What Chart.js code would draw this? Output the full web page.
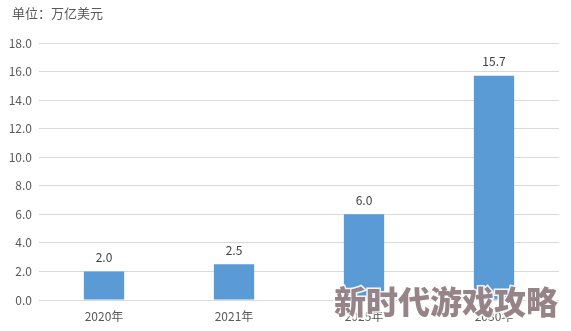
<!DOCTYPE html>
<html>
<head>
<meta charset="utf-8">
<script src="https://cdn.jsdelivr.net/npm/chart.js@4.4.1/dist/chart.umd.min.js"></script>
<style>
  html, body { margin: 0; padding: 0; background: #fff; }
  #wrap { position: relative; width: 571px; height: 331px; }
  #unit { position: absolute; left: 12px; top: 3px; font: 13px "Noto Sans CJK SC", sans-serif; color: #595959; }
</style>
</head>
<body>
<div id="wrap">
  <div id="unit">单位：万亿美元</div>
  <canvas id="c" width="571" height="331"></canvas>
</div>
<script>
// Chart data
const categories = ["2020年", "2021年", "2025年", "2030年"];
const values = [2.0, 2.5, 6.0, 15.7];
const yMax = 18;
const yStep = 2;

const FONT = "'Noto Sans CJK SC', 'Noto Sans', sans-serif";
const TEXT_COLOR = "#595959";

// Value labels above each bar
const barLabels = {
    id: "barLabels",
    afterDatasetsDraw(chart) {
        const ctx = chart.ctx;
        const meta = chart.getDatasetMeta(0);
        ctx.save();
        ctx.font = "12px " + FONT;
        ctx.fillStyle = "#404040";
        ctx.textAlign = "center";
        ctx.textBaseline = "bottom";
        meta.data.forEach((bar, i) => {
            ctx.fillText(values[i].toFixed(1), bar.x, bar.y - 8);
        });
        ctx.restore();
    },
};

// Watermark overlay
const watermark = {
    id: "watermark",
    afterDraw(chart) {
        const ctx = chart.ctx;
        ctx.save();
        ctx.font = "900 32px " + FONT;
        ctx.textAlign = "center";
        ctx.textBaseline = "middle";
        ctx.lineWidth = 3;
        ctx.strokeStyle = "rgba(255,255,255,0.9)";
        ctx.strokeText("新时代游戏攻略", 446, 302);
        ctx.fillStyle = "#978489";
        ctx.fillText("新时代游戏攻略", 446, 302);
        ctx.restore();
    },
};

new Chart(document.getElementById("c"), {
    type: "bar",
    data: {
        labels: categories,
        datasets: [{
            data: values,
            backgroundColor: "#5B9BD5",
            borderWidth: 0,
            barPercentage: 0.31,
            categoryPercentage: 1.0,
        }],
    },
    options: {
        responsive: false,
        animation: false,
        layout: { padding: { top: 43, right: 12, left: 0, bottom: 0 } },
        plugins: {
            legend: { display: false },
            tooltip: { enabled: false },
        },
        scales: {
            x: {
                grid: { display: false },
                border: { display: false },
                ticks: { color: TEXT_COLOR, font: { size: 12, family: FONT }, padding: 1 },
                afterFit: (s) => { s.height = 31; },
            },
            y: {
                min: 0,
                max: yMax,
                ticks: {
                    stepSize: yStep,
                    color: TEXT_COLOR,
                    font: { size: 12, family: FONT },
                    padding: 7,
                    callback: (v) => v.toFixed(1),
                },
                grid: { color: "#d9d9d9", drawTicks: false },
                border: { display: false },
                afterFit: (s) => { s.width = 39; },
            },
        },
    },
    plugins: [barLabels, watermark],
});
</script>
</body>
</html>
